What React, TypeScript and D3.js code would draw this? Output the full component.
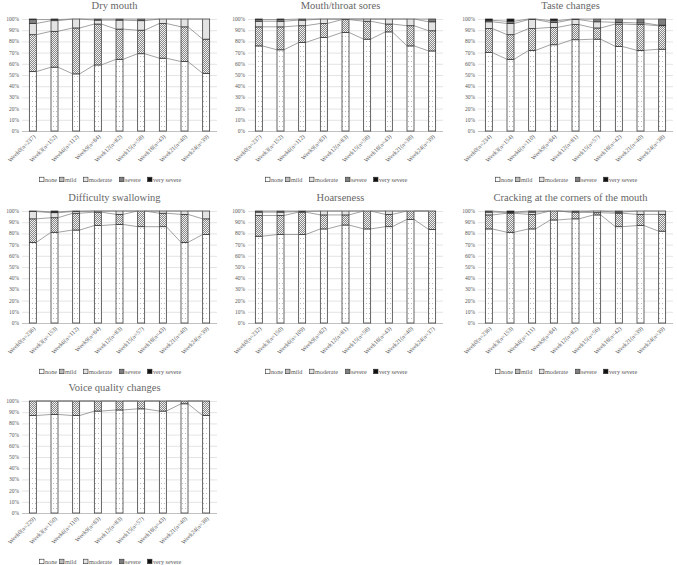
import * as d3 from "d3";
import { useEffect, useRef } from "react";

const weeks = ["Week0", "Week3", "Week6", "Week9", "Week12", "Week15", "Week18", "Week21", "Week24"];
const levels = ["none", "mild", "moderate", "severe", "very severe"];

// n per visit, per panel
const nDryMouth = [237, 152, 112, 84, 82, 58, 43, 40, 39];
const nSores = [237, 152, 112, 83, 83, 58, 43, 38, 39];
const nTaste = [234, 154, 110, 84, 81, 57, 42, 40, 38];
const nSwallow = [236, 153, 112, 84, 83, 57, 43, 40, 39];
const nHoarse = [232, 150, 109, 82, 81, 58, 43, 40, 37];
const nCracking = [236, 153, 111, 84, 82, 56, 42, 39, 39];
const nVoice = [229, 150, 110, 83, 83, 57, 43, 40, 38];

// % per level: none, mild, moderate, severe, very severe
const dryMouth = [
  [53, 33, 10, 3.5, 0.5],
  [57, 32, 9.5, 1, 0.5],
  [51, 41, 8, 0, 0],
  [59, 36.5, 3.5, 1, 0],
  [64, 27, 8, 1, 0],
  [69, 21, 8.5, 1.5, 0],
  [65, 31, 4, 0, 0],
  [62, 31, 7, 0, 0],
  [51.5, 30.5, 18, 0, 0],
];
const sores = [
  [76, 17, 5, 1.5, 0.5],
  [72.5, 20.5, 5, 1.5, 0.5],
  [79, 15, 5, 1, 0],
  [83.5, 12.5, 4, 0, 0],
  [88, 11.5, 0.5, 0, 0],
  [82, 16, 2, 0, 0],
  [88.5, 7, 4.5, 0, 0],
  [76, 18, 6, 0, 0],
  [71.5, 18, 8, 2.5, 0],
];
const taste = [
  [70, 21.5, 6, 1.3, 1.2],
  [64, 22, 10, 2, 2],
  [72, 19.5, 8, 0.5, 0],
  [77, 15.5, 4.5, 1.5, 1.5],
  [81.5, 13.5, 4.5, 0.5, 0],
  [82, 10, 5.5, 2.5, 0],
  [75.5, 20, 1.5, 3, 0],
  [72, 23, 1.5, 3.5, 0],
  [73, 21, 0.5, 5.5, 0],
];
const swallow = [
  [72, 21, 6.5, 0.5, 0],
  [81, 13, 4.5, 0.7, 0.8],
  [83, 15, 1.5, 0.5, 0],
  [87, 12, 1, 0, 0],
  [88, 9, 3, 0, 0],
  [86, 14, 0, 0, 0],
  [86, 12, 2, 0, 0],
  [72, 25, 3, 0, 0],
  [79, 14, 7, 0, 0],
];
const hoarse = [
  [77.5, 18.5, 3, 1, 0],
  [79, 17, 3, 1, 0],
  [79, 20, 0.5, 0.5, 0],
  [84, 12.5, 3.5, 0, 0],
  [87.5, 9, 3.5, 0, 0],
  [84, 16, 0, 0, 0],
  [86, 11, 3, 0, 0],
  [92.5, 7.5, 0, 0, 0],
  [83.5, 16.5, 0, 0, 0],
];
const cracking = [
  [84, 12.5, 2.5, 1, 0],
  [81, 17, 0.8, 0.2, 1],
  [84, 13, 2, 1, 0],
  [92, 8, 0, 0, 0],
  [93, 6, 0, 1, 0],
  [96.5, 2, 1.5, 0, 0],
  [86, 12, 1, 1, 0],
  [87, 10, 3, 0, 0],
  [82, 15, 3, 0, 0],
];
const voice = [
  [87, 13, 0, 0, 0],
  [88, 12, 0, 0, 0],
  [87, 13, 0, 0, 0],
  [91, 9, 0, 0, 0],
  [92, 8, 0, 0, 0],
  [93, 7, 0, 0, 0],
  [91, 9, 0, 0, 0],
  [97.5, 2.5, 0, 0, 0],
  [87, 13, 0, 0, 0],
];

const panels = [
  { title: "Dry mouth", n: nDryMouth, data: dryMouth, col: 0, row: 0 },
  { title: "Mouth/throat sores", n: nSores, data: sores, col: 1, row: 0 },
  { title: "Taste changes", n: nTaste, data: taste, col: 2, row: 0 },
  { title: "Difficulty swallowing", n: nSwallow, data: swallow, col: 0, row: 1 },
  { title: "Hoarseness", n: nHoarse, data: hoarse, col: 1, row: 1 },
  { title: "Cracking at the corners of the mouth", n: nCracking, data: cracking, col: 2, row: 1 },
  { title: "Voice quality changes", n: nVoice, data: voice, col: 0, row: 2 },
];

export default function App() {
  const ref = useRef<SVGSVGElement | null>(null);
  const width = 677,
    height = 565;
  const colX = [22, 248, 478];
  const rowY = [19, 211, 401];
  const plotW = 195,
    plotH = 112;
  const font = "'Liberation Serif', 'Times New Roman', serif";
  const textColor = "#595959";

  useEffect(() => {
    const svg = d3.select(ref.current);
    svg.selectAll("*").remove();

    const defs = svg.append("defs");
    const dots = defs
      .append("pattern")
      .attr("id", "p-none")
      .attr("width", 3)
      .attr("height", 5)
      .attr("patternUnits", "userSpaceOnUse");
    dots.append("rect").attr("width", 3).attr("height", 5).attr("fill", "#fff");
    dots.append("rect").attr("x", 1).attr("y", 2).attr("width", 0.8).attr("height", 0.8).attr("fill", "#9a9a9a");

    const check = defs
      .append("pattern")
      .attr("id", "p-mild")
      .attr("width", 2)
      .attr("height", 2)
      .attr("patternUnits", "userSpaceOnUse");
    check.append("rect").attr("width", 2).attr("height", 2).attr("fill", "#f0f0f0");
    check.append("rect").attr("width", 1).attr("height", 1).attr("fill", "#8a8a8a");
    check.append("rect").attr("x", 1).attr("y", 1).attr("width", 1).attr("height", 1).attr("fill", "#8a8a8a");

    const fills = ["url(#p-none)", "url(#p-mild)", "#e3e3e3", "#7f7f7f", "#111"];

    const y = d3.scaleLinear().domain([0, 100]).range([plotH, 0]);

    panels.forEach((p) => {
      const g = svg
        .append("g")
        .attr("transform", `translate(${colX[p.col]}, ${rowY[p.row]})`);
      const labels = weeks.map((w, i) => `${w}(n=${p.n[i]})`);
      const x = d3.scalePoint<string>().domain(labels).range([0, plotW]).padding(0.5);
      const bw = 7;

      // title
      g.append("text")
        .attr("x", plotW / 2 - 5)
        .attr("y", -10)
        .attr("text-anchor", "middle")
        .attr("font-family", font)
        .attr("font-size", 10.5)
        .attr("fill", "#666")
        .text(p.title);

      // gridlines + y ticks
      const ticks = d3.range(0, 101, 10);
      g.selectAll(".grid")
        .data(ticks)
        .join("line")
        .attr("x1", 0)
        .attr("x2", plotW)
        .attr("y1", (d) => y(d) + 0.5)
        .attr("y2", (d) => y(d) + 0.5)
        .attr("stroke", (d) => (d === 0 ? "#a6a6a6" : "#d9d9d9"))
        .attr("stroke-width", 0.7);
      g.selectAll(".ytick")
        .data(ticks)
        .join("text")
        .attr("x", -3)
        .attr("y", (d) => y(d) + 2)
        .attr("text-anchor", "end")
        .attr("font-family", font)
        .attr("font-size", 5.5)
        .attr("fill", textColor)
        .text((d) => `${d}%`);

      // stacked segments
      const stacked = p.data.map((row) => {
        let acc = 0;
        return row.map((v) => {
          const seg = [acc, acc + v];
          acc += v;
          return seg;
        });
      });

      stacked.forEach((row, i) => {
        const cx = x(labels[i]) as number;
        row.forEach((seg, k) => {
          if (seg[1] - seg[0] <= 0) return;
          g.append("rect")
            .attr("x", cx - bw / 2)
            .attr("y", y(seg[1]))
            .attr("width", bw)
            .attr("height", y(seg[0]) - y(seg[1]))
            .attr("fill", fills[k])
            .attr("stroke", "#333")
            .attr("stroke-width", 0.75);
        });
      });

      // series lines
      for (let k = 0; k < 4; k++) {
        for (let i = 0; i < stacked.length - 1; i++) {
          const x1 = (x(labels[i]) as number) + bw / 2;
          const x2 = (x(labels[i + 1]) as number) - bw / 2;
          g.append("line")
            .attr("x1", x1)
            .attr("x2", x2)
            .attr("y1", y(stacked[i][k][1]))
            .attr("y2", y(stacked[i + 1][k][1]))
            .attr("stroke", "#7a7a7a")
            .attr("stroke-width", 0.7);
        }
      }

      // x labels
      g.selectAll(".xl")
        .data(labels)
        .join("text")
        .attr("transform", (d) => `translate(${(x(d) as number) + 3}, ${plotH + 6}) rotate(-45)`)
        .attr("text-anchor", "end")
        .attr("font-family", font)
        .attr("font-size", 6)
        .attr("fill", textColor)
        .text((d) => d);

      // legend
      const lg = g.append("g").attr("transform", `translate(${plotW / 2 - 8}, ${161})`);
      const widths = [20, 24, 36, 28, 36];
      const totalW = d3.sum(widths);
      let off = -totalW / 2;
      levels.forEach((lv, k) => {
        lg.append("rect")
          .attr("x", off)
          .attr("y", -2.8)
          .attr("width", 4.5)
          .attr("height", 4.5)
          .attr("fill", fills[k])
          .attr("stroke", "#333")
          .attr("stroke-width", 0.6);
        lg.append("text")
          .attr("x", off + 5.5)
          .attr("y", 1.7)
          .attr("font-family", font)
          .attr("font-size", 6.2)
          .attr("fill", textColor)
          .text(lv);
        off += widths[k];
      });
    });
  }, []);

  return (
    <svg
      ref={ref}
      width={width}
      height={height}
      style={{ position: "absolute", left: 0, top: 0, background: "#fff" }}
    />
  );
}
